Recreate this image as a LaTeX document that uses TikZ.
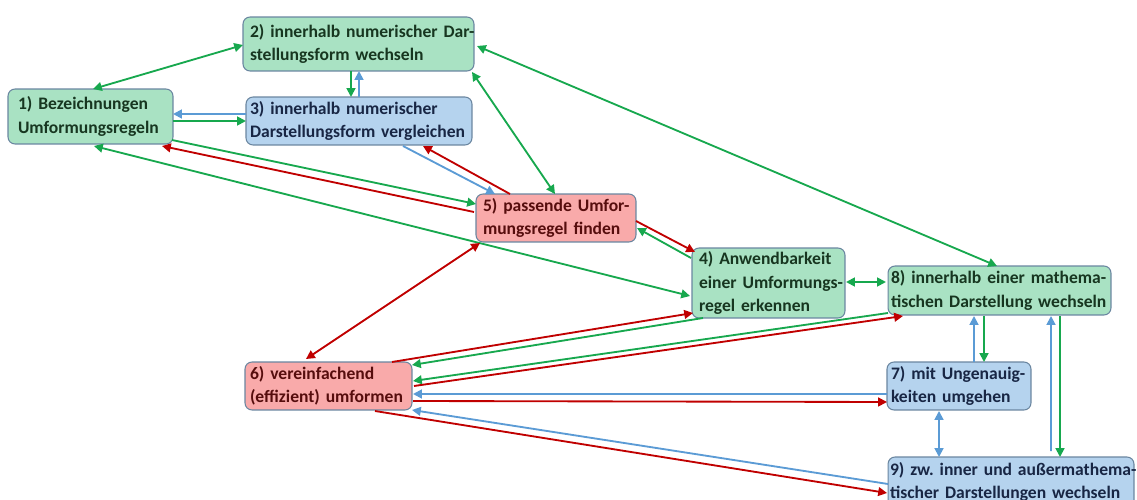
\documentclass[tikz,border=0pt]{standalone}
\usepackage{fontspec}
\setmainfont{Carlito}
\usetikzlibrary{calc,arrows.meta}
\definecolor{gfill}{HTML}{A9E2C3}
\definecolor{bfill}{HTML}{B5D3EE}
\definecolor{rfill}{HTML}{F9AAAA}
\definecolor{bordc}{HTML}{6A86A0}
\definecolor{gtext}{HTML}{173620}
\definecolor{btext}{HTML}{182644}
\definecolor{rtext}{HTML}{560D0D}
\definecolor{garr}{HTML}{17A84E}
\definecolor{barr}{HTML}{5B9BD5}
\definecolor{rarr}{HTML}{C00000}
\frenchspacing
\tikzset{
  box/.style={draw=bordc, line width=0.6pt, rounded corners=4pt, align=left,
    inner ysep=0pt, font=\fontsize{10}{13.3}\selectfont\bfseries\frenchspacing},
  gbox/.style={box, fill=gfill, text=gtext},
  bbox/.style={box, fill=bfill, text=btext},
  rbox/.style={box, fill=rfill, text=rtext},
  tip/.tip={Triangle[length=5pt,width=5pt]},
  conn/.style={line width=1.05pt},
  ga/.style={conn, draw=garr, -tip},
  gaa/.style={conn, draw=garr, tip-tip},
  ba/.style={conn, draw=barr, -tip},
  baa/.style={conn, draw=barr, tip-tip},
  ra/.style={conn, draw=rarr, -tip},
  raa/.style={conn, draw=rarr, tip-tip},
}
\begin{document}
\begin{tikzpicture}[x=0.02cm,y=-0.02cm]
\useasboundingbox (0,0) rectangle (1137,500);
\clip (0,0) rectangle (1137,500);
% nodes
\node[gbox, minimum width=3.3cm, minimum height=1.1cm, text width=2.9cm, inner xsep=0.2cm] (n1) at (90.5,116.5)
  {\mbox{1) Bezeichnungen}\\\mbox{Umformungsregeln}};
\node[gbox, minimum width=4.62cm, minimum height=1.08cm, text width=4.34cm, inner xsep=0.14cm] (n2) at (358.5,44)
  {\mbox{2) innerhalb numerischer Dar-}\\\mbox{stellungsform wechseln}};
\node[bbox, minimum width=4.52cm, minimum height=0.96cm, text width=4.36cm, inner xsep=0.08cm] (n3) at (359,121)
  {\mbox{3) innerhalb numerischer}\\\mbox{Darstellungsform vergleichen}};
\node[rbox, minimum width=3.2cm, minimum height=0.96cm, text width=2.92cm, inner xsep=0.14cm] (n5) at (556,218)
  {\mbox{5) passende Umfor-}\\\mbox{mungsregel finden}};
\node[gbox, minimum width=3.06cm, minimum height=1.4cm, text width=2.78cm, inner xsep=0.14cm] (n4) at (768.5,283)
  {\mbox{4) Anwendbarkeit}\\\mbox{einer Umformungs-}\\\mbox{regel erkennen}};
\node[gbox, minimum width=4.46cm, minimum height=0.98cm, text width=4.34cm, inner xsep=0.06cm] (n8) at (999.5,290.5)
  {\mbox{8) innerhalb einer mathema-}\\\mbox{tischen Darstellung wechseln}};
\node[bbox, minimum width=2.88cm, minimum height=0.96cm, text width=2.72cm, inner xsep=0.08cm] (n7) at (959,386)
  {\mbox{7) mit Ungenauig-}\\\mbox{keiten umgehen}};
\node[rbox, minimum width=3.34cm, minimum height=0.96cm, text width=3.14cm, inner xsep=0.1cm] (n6) at (328.5,386)
  {\mbox{6) vereinfachend}\\\mbox{(effizient) umformen}};
\node[bbox, minimum width=4.92cm, minimum height=1.0cm, text width=4.84cm, inner xsep=0.04cm] (n9) at (1011,482)
  {\mbox{9) zw.\ inner und außermathema-}\\\mbox{tischer Darstellungen wechseln}};
% connectors
\draw[gaa] ($(n1)+(2.5,-27.5)$) -- ($(n2)+(-115.5,1)$);
\draw[ga] ($(n2)+(-7.5,27)$) -- ($(n3)+(-8,-24)$);
\draw[ba] ($(n3)+(0,-24)$) -- ($(n2)+(0.5,27)$);
\draw[ba] ($(n3)+(-113,-7)$) -- ($(n1)+(82.5,-2.5)$);
\draw[ga] ($(n1)+(82.5,4.5)$) -- ($(n3)+(-113,0)$);
\draw[ga] ($(n1)+(81.5,23.5)$) -- ($(n5)+(-80,-14)$);
\draw[ra] ($(n5)+(-82,-6)$) -- ($(n1)+(71.5,29.5)$);
\draw[gaa] ($(n1)+(3.5,29.5)$) -- ($(n4)+(-78.5,13)$);
\draw[ba] ($(n3)+(44,25)$) -- ($(n5)+(-61,-24)$);
\draw[ra] ($(n5)+(-46,-24)$) -- ($(n3)+(64,25)$);
\draw[gaa] ($(n2)+(113.5,28)$) -- ($(n5)+(-1,-24)$);
\draw[gaa] ($(n2)+(118.5,2)$) -- ($(n8)+(-2.5,-24.5)$);
\draw[ra] ($(n5)+(80,3)$) -- ($(n4)+(-73.5,-31)$);
\draw[ga] ($(n4)+(-77.5,-25)$) -- ($(n5)+(81,10)$);
\draw[raa] ($(n5)+(-76,25)$) -- ($(n6)+(-22.5,-27)$);
\draw[gaa] ($(n4)+(77.5,-1)$) -- ($(n8)+(-113.5,-8.5)$);
\draw[ra] ($(n6)+(63.5,-24)$) -- ($(n4)+(-75.5,30)$);
\draw[ga] ($(n4)+(-65.5,35)$) -- ($(n6)+(83.5,-21)$);
\draw[ga] ($(n8)+(-111.5,22.5)$) -- ($(n6)+(84.5,-5)$);
\draw[ra] ($(n6)+(85.5,0)$) -- ($(n8)+(-96.5,25.5)$);
\draw[ba] ($(n7)+(-72,8)$) -- ($(n6)+(84.5,8)$);
\draw[ra] ($(n6)+(84.5,15)$) -- ($(n7)+(-72,16)$);
\draw[ba] ($(n9)+(-123,2)$) -- ($(n6)+(83.5,24)$);
\draw[ra] ($(n6)+(46.5,25)$) -- ($(n9)+(-124,11)$);
\draw[ba] ($(n7)+(15,-24)$) -- ($(n8)+(-25.5,25.5)$);
\draw[ga] ($(n8)+(-15.5,25.5)$) -- ($(n7)+(25,-24)$);
\draw[baa] ($(n7)+(-20,25)$) -- ($(n9)+(-72,-25)$);
\draw[ba] ($(n9)+(40,-31)$) -- ($(n8)+(51.5,25.5)$);
\draw[ga] ($(n8)+(60.5,25.5)$) -- ($(n9)+(49,-25)$);
\end{tikzpicture}
\end{document}
